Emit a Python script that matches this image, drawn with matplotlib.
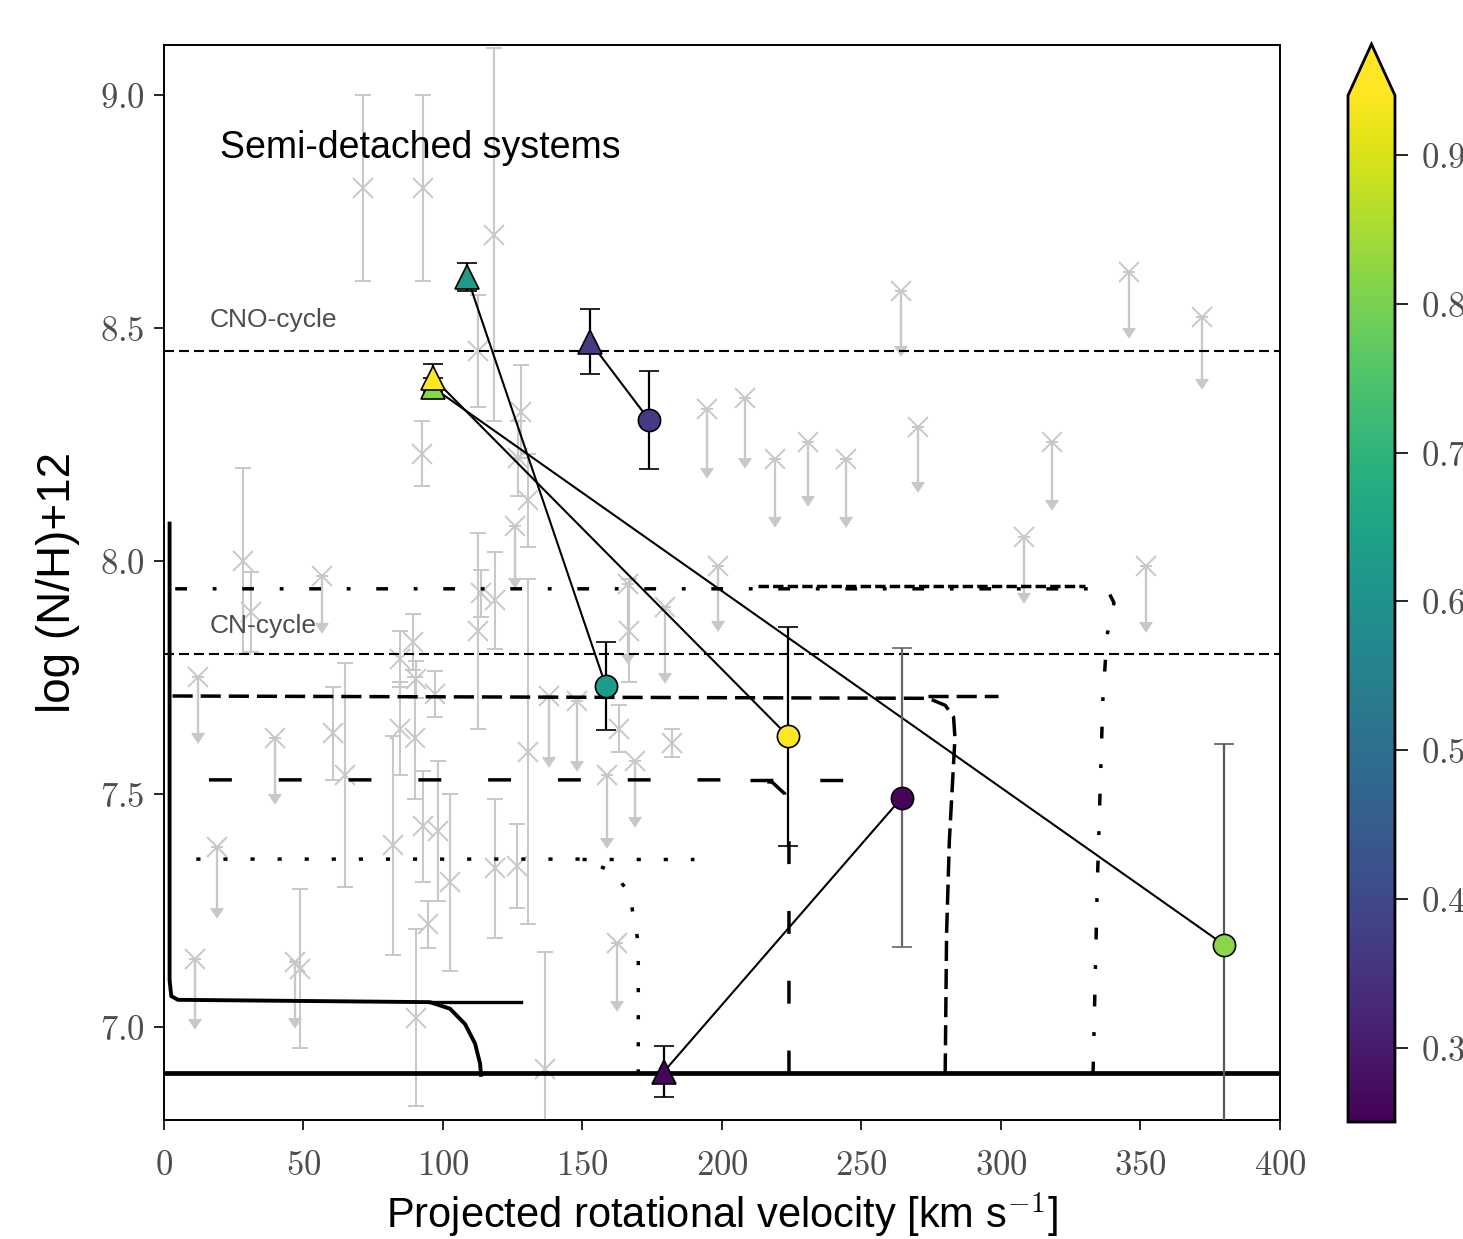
import matplotlib
matplotlib.use('Agg')
import matplotlib.pyplot as plt
from matplotlib.colors import Normalize
from matplotlib.cm import ScalarMappable

plt.rcParams['mathtext.fontset'] = 'cm'
plt.rcParams['font.family'] = ['Liberation Sans', 'DejaVu Sans']

# comparison sample (grey): detections with error bars
bg_vsini = [71.3, 92.8, 118.3, 112.5, 92.4, 128.0, 127.0, 130.5, 28.3, 31.2,
            112.5, 113.5, 118.6, 130.5, 166.5, 84.6, 89.2, 90.5, 97.0, 84.6,
            90.0, 82.0, 92.8, 98.2, 102.5, 94.6, 90.5, 48.7, 60.5, 64.9,
            118.6, 126.5, 136.6, 182.0, 163.0]
bg_logn = [8.80, 8.80, 8.70, 8.45, 8.23, 8.32, 8.22, 8.13, 8.00, 7.89,
           7.85, 7.93, 7.915, 7.59, 7.85, 7.79, 7.825, 7.746, 7.714, 7.64,
           7.62, 7.39, 7.43, 7.42, 7.31, 7.22, 7.02, 7.125, 7.63, 7.54,
           7.34, 7.345, 6.91, 7.61, 7.64]
bg_err = [0.20, 0.20, 0.40, 0.12, 0.07, 0.10, 0.08, 0.10, 0.20, 0.085,
          0.21, 0.05, 0.105, 0.37, 0.11, 0.06, 0.06, 0.04, 0.05, 0.10,
          0.13, 0.235, 0.12, 0.15, 0.19, 0.05, 0.19, 0.17, 0.10, 0.24,
          0.15, 0.09, 0.25, 0.03, 0.05]

# comparison sample (grey): upper limits
lim_vsini = [12.2, 39.8, 19.0, 11.1, 47.0, 56.6, 125.8, 138.0, 148.0, 158.8,
             162.4, 168.8, 166.3, 179.6, 198.6, 194.6, 208.2, 219.0, 230.8, 244.4,
             264.2, 270.3, 308.2, 318.3, 345.9, 352.0, 372.0]
lim_logn = [7.75, 7.62, 7.386, 7.146, 7.14, 7.967, 8.074, 7.71, 7.70, 7.54,
            7.18, 7.57, 7.95, 7.90, 7.99, 8.325, 8.35, 8.218, 8.256, 8.218,
            8.58, 8.288, 8.052, 8.256, 8.62, 7.988, 8.524]
lim_len = [0.12, 0.12, 0.13, 0.13, 0.12, 0.10, 0.11, 0.13, 0.13, 0.135,
           0.125, 0.12, 0.15, 0.14, 0.12, 0.125, 0.13, 0.123, 0.116, 0.123,
           0.12, 0.118, 0.122, 0.126, 0.12, 0.12, 0.134]

# semi-detached systems: triangle = one component, circle = the other
tri_vsini = [108.6, 152.7, 96.4, 96.4, 179.2]
tri_logn = [8.61, 8.47, 8.372, 8.393, 6.904]
tri_err = [0.03, 0.07, 0.02, 0.03, 0.055]
circ_vsini = [158.4, 173.8, 380.0, 223.7, 264.5]
circ_logn = [7.731, 8.303, 7.176, 7.624, 7.492]
circ_err = [0.095, 0.105, 0.43, 0.235, 0.32]
circ_ecolor = ['k', 'k', '0.35', 'k', '0.4']
mass_ratio = [0.63, 0.37, 0.82, 1.0, 0.26]

# reference abundance levels
cno_level = 8.45
cn_level = 7.80
initial_level = 6.90

# model tracks (vsini, log N/H + 12)
solid_v = [113.6, 113.3, 111.5, 107.9, 102.5, 95.3, 60.0, 5.0, 2.6, 2.0, 2.0]
solid_n = [6.897, 6.921, 6.964, 7.006, 7.039, 7.053, 7.055, 7.058, 7.066, 7.10, 8.08]
solid_ext_v = [95.3, 128.0]
solid_ext_n = [7.053, 7.053]

ldash_v = [280.0, 280.5, 281.5, 283.5, 283.0, 280.0, 274.0, 3.0]
ldash_n = [6.90, 7.20, 7.40, 7.62, 7.665, 7.69, 7.705, 7.71]
ldash_ext_v = [274.0, 299.0]
ldash_ext_n = [7.71, 7.71]

mdash_v = [224.0, 224.0, 222.5, 218.0, 210.0, 9.0]
mdash_n = [6.90, 7.44, 7.50, 7.525, 7.53, 7.53]
mdash_ext_v = [210.0, 249.0]
mdash_ext_n = [7.53, 7.53]

dot_v = [170.0, 170.0, 166.7, 160.0, 150.0, 5.5]
dot_n = [6.90, 7.18, 7.29, 7.335, 7.36, 7.36]
dot_ext_v = [150.0, 190.0]
dot_ext_n = [7.36, 7.36]

dashdot_v = [333.0, 334.5, 336.5, 338.0, 340.5, 338.0, 4.0]
dashdot_n = [6.90, 7.30, 7.70, 7.84, 7.91, 7.94, 7.94]
dashdot_over_v = [213.0, 330.0]
dashdot_over_n = [7.945, 7.945]

xticks = [0, 50, 100, 150, 200, 250, 300, 350, 400]
yticks = [7.0, 7.5, 8.0, 8.5, 9.0]
cticks = [0.3, 0.4, 0.5, 0.6, 0.7, 0.8, 0.9]

fig = plt.figure(figsize=(14.63, 12.39), dpi=100)
ax = fig.add_axes([0.1121, 0.0960, 0.7628, 0.8677])
cax = fig.add_axes([0.9214, 0.0944, 0.0321, 0.870])

grey = '#c8c8c8'
ax.errorbar(bg_vsini, bg_logn, yerr=bg_err, fmt='x', color=grey, ms=14, mew=1.4,
            ecolor=grey, elinewidth=1.5, capsize=6, capthick=1.5, zorder=1)
ax.errorbar(lim_vsini, lim_logn, yerr=[lim_len, [0] * len(lim_len)], uplims=True,
            fmt='x', color=grey, ms=14, mew=1.4, ecolor=grey, elinewidth=1.7,
            capsize=4.5, zorder=1)

# abundance levels
ax.axhline(cno_level, color='k', lw=1.5, ls=(0, (4.8, 2.4)), zorder=2)
ax.axhline(cn_level, color='k', lw=1.5, ls=(0, (4.8, 2.4)), zorder=2)
ax.axhline(initial_level, color='k', lw=3.4, zorder=2)
ax.text(16.5, 8.516, 'CNO-cycle', fontsize=19, color='0.3', va='center')
ax.text(16.5, 7.86, 'CN-cycle', fontsize=19, color='0.3', va='center')

# tracks
ax.plot(solid_v, solid_n, color='k', lw=2.8, zorder=2)
ax.plot(solid_ext_v, solid_ext_n, color='k', lw=2.4, zorder=2)
ls_long = (0, (5.8, 2.3))
ax.plot(ldash_v, ldash_n, color='k', lw=2.5, ls=ls_long, zorder=2)
ax.plot(ldash_ext_v, ldash_ext_n, color='k', lw=2.5, ls=ls_long, zorder=2)
ls_med = (0, (6.6, 13.5))
ax.plot(mdash_v, mdash_n, color='k', lw=2.5, ls=ls_med, zorder=2)
ax.plot(mdash_ext_v, mdash_ext_n, color='k', lw=2.5, ls=ls_med, zorder=2)
ls_dot = (0, (1.2, 6.6))
ax.plot(dot_v, dot_n, color='k', lw=2.5, ls=ls_dot, zorder=2)
ax.plot(dot_ext_v, dot_ext_n, color='k', lw=2.5, ls=ls_dot, zorder=2)
ls_dd = (0, (3.4, 7.4, 1.1, 7.4))
ax.plot(dashdot_v, dashdot_n, color='k', lw=2.5, ls=ls_dd, zorder=2)
ax.plot(dashdot_over_v, dashdot_over_n, color='k', lw=2.5, ls=(0, (3.0, 1.2)), zorder=2)

# semi-detached systems
cmap = plt.get_cmap('viridis')
norm = Normalize(vmin=0.25, vmax=0.94)
for i in range(len(tri_vsini)):
    ax.plot([tri_vsini[i], circ_vsini[i]], [tri_logn[i], circ_logn[i]],
            color='k', lw=1.5, zorder=3)
for i in range(len(tri_vsini)):
    c = cmap(norm(mass_ratio[i]))
    ax.errorbar(circ_vsini[i], circ_logn[i], yerr=circ_err[i], fmt='o', ms=16,
                mfc=c, mec='k', mew=1.2, ecolor=circ_ecolor[i], elinewidth=1.6,
                capsize=7, capthick=1.6, zorder=4)
    ax.errorbar(tri_vsini[i], tri_logn[i], yerr=tri_err[i], fmt='^', ms=17,
                mfc=c, mec='k', mew=1.2, ecolor='k', elinewidth=1.6,
                capsize=7, capthick=1.6, zorder=4)

ax.text(20, 8.886, 'Semi-detached systems', fontsize=27, va='center')

ax.set_xlim(0, 400)
ax.set_ylim(6.8, 9.107)
ax.set_xticks(xticks)
ax.set_xticklabels(['$%d$' % t for t in xticks], fontsize=25, color='0.3')
ax.set_yticks(yticks)
ax.set_yticklabels(['$%.1f$' % t for t in yticks], fontsize=25, color='0.3')
ax.tick_params(length=7, width=1.2, pad=7)
ax.tick_params(axis='x', pad=14)
for s in ax.spines.values():
    s.set_linewidth(1.4)
ax.set_xlabel('Projected rotational velocity [km s$^{-1}$]', fontsize=30, labelpad=6)
ax.set_ylabel('log (N/H)+12', fontsize=33, labelpad=14)

sm = ScalarMappable(norm=norm, cmap=cmap)
cb = fig.colorbar(sm, cax=cax, extend='max')
cb.set_ticks(cticks)
cb.set_ticklabels(['$%.1f$' % t for t in cticks])
cb.ax.tick_params(labelsize=25, labelcolor='0.3', length=9, width=1.2, pad=10)
cb.outline.set_linewidth(2.0)

fig.savefig('out.png', dpi=100)
